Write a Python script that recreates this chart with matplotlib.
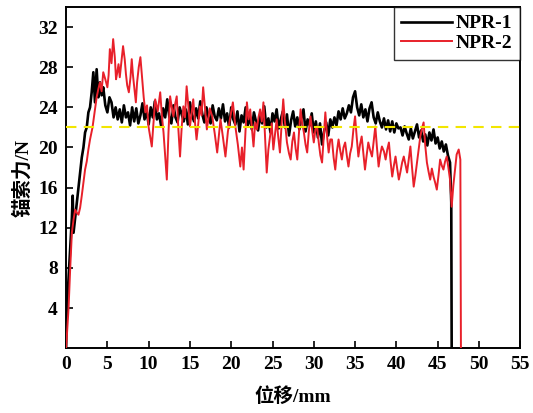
import matplotlib.pyplot as plt
import numpy as np

# NPR-1 (black)
x1 = [0.0, 0.1, 0.3, 0.5, 0.7, 0.8, 0.9, 1.1, 1.3, 1.5, 1.7, 1.9, 2.1, 2.3, 2.5, 2.7, 2.9,
      3.1, 3.3, 3.5, 3.7, 3.9, 4.1, 4.3]
y1 = [0.0, 4.0, 7.0, 10.0, 13.0, 15.2, 11.5, 13.0, 14.5, 16.0, 17.5, 19.0, 20.0, 21.5, 22.0, 23.5, 24.0,
      25.5, 27.5, 24.5, 27.8, 25.0, 26.5, 25.2]
x1_mid = list(np.arange(4.5, 46.5, 0.25))
y1_mid = [26.0, 24.2, 23.5, 25.0,
          24.5, 23.0, 24.0, 22.8,
          23.8, 22.5, 24.2, 23.0,
          23.5, 22.2, 24.0, 22.6,
          23.9, 22.4, 23.2, 24.4,
          22.8, 23.6, 22.3, 24.0,
          23.0, 24.6, 22.8, 23.4,
          22.2, 23.9, 23.0, 24.8,
          23.1, 22.4, 24.2, 23.0,
          22.5, 24.0, 23.3, 22.6,
          23.8, 22.3, 24.5, 23.2,
          22.6, 23.9, 22.9, 24.6,
          23.3, 22.5, 24.0, 23.0,
          22.4, 24.2, 23.1, 22.7,
          23.9, 22.9, 24.3, 22.6,
          23.4, 22.0, 24.0, 22.8,
          22.3, 23.6, 21.6, 23.2,
          22.5, 24.0, 22.2, 23.1,
          21.8, 23.5, 22.6, 21.7,
          23.2, 22.4, 24.1, 22.0,
          22.9, 21.5, 23.4, 22.6,
          23.8, 21.9, 22.8, 23.6,
          22.0, 23.3, 21.2, 22.7,
          23.6, 22.1, 23.0, 21.8,
          22.9, 23.8, 21.6, 22.8,
          22.2, 23.4, 21.5, 22.6,
          21.0, 22.4, 20.3, 21.6,
          22.5, 21.2, 22.8, 22.0,
          23.0, 22.2, 23.6, 22.8,
          23.9, 22.9, 23.4, 24.2,
          23.5, 25.0, 25.6, 24.0,
          23.2, 24.3, 23.0, 23.8,
          22.6, 23.9, 24.5, 23.0,
          22.4, 23.5, 22.6, 22.0,
          22.9, 21.8, 22.7, 21.6,
          22.6, 21.5, 22.4, 21.9,
          22.0, 21.2, 22.1, 21.4,
          20.8, 21.9, 20.9, 21.6,
          22.3, 21.0, 21.7, 20.6,
          21.3, 20.2, 21.5, 20.7,
          21.8, 20.4, 21.0, 19.9,
          20.6, 19.6, 20.3, 19.2]
x1_end = [46.5, 46.65, 46.7]
y1_end = [18.5, 14.5, 0.0]

# NPR-2 (red)
x2 = [0.0, 0.3, 0.5, 0.7, 0.9, 1.1, 1.3, 1.5, 1.7, 1.9, 2.1, 2.3, 2.5, 2.7, 2.9, 3.2, 3.45, 3.7, 3.9,
      4.1, 4.3, 4.5, 4.75, 5.0, 5.15, 5.3, 5.5, 5.7, 5.9, 6.05, 6.2, 6.35, 6.5, 6.7, 6.9, 7.1, 7.25,
      7.4, 7.6, 7.8, 7.95, 8.1, 8.3, 8.45, 8.6, 8.8, 9.0, 9.2, 9.4, 9.6, 9.8,
      9.98, 10.2, 10.38, 10.6, 10.79, 11.1, 11.4, 11.6, 11.8, 12.0, 12.2, 12.4, 12.6, 12.8, 13.0, 13.2,
      13.4, 13.6, 13.8, 14.0, 14.2, 14.4, 14.6, 14.8, 15.0, 15.2, 15.4, 15.6, 15.8, 16.0, 16.2, 16.4,
      16.6, 16.8, 17.05, 17.4, 17.7, 18.0, 18.3, 18.5, 18.7, 19.0, 19.3, 19.6, 19.9, 20.2,
      20.5, 20.8, 21.1, 21.3, 21.5, 21.7, 21.9, 22.1, 22.3, 22.5, 22.7, 22.9, 23.1, 23.3, 23.5, 23.7,
      23.9, 24.1, 24.3, 24.5, 24.7, 24.9, 25.1, 25.3, 25.5, 25.7, 25.9, 26.1, 26.3, 26.5, 26.75, 27.0,
      27.2, 27.4, 27.6, 27.8, 28.0, 28.2, 28.4, 28.6, 28.8, 29.0, 29.2, 29.4, 29.6, 29.8, 30.0, 30.2,
      30.4, 30.6, 30.8, 31.0, 31.2, 31.4, 31.6, 31.8, 32.0, 32.2, 32.4, 32.6, 32.8, 33.0, 33.2, 33.4,
      33.6, 33.8, 34.0, 34.2, 34.4, 34.6, 34.8, 35.0, 35.2, 35.4, 35.6, 35.8, 36.0, 36.2, 36.4, 36.6,
      36.8, 37.05, 37.25, 37.45, 37.65, 37.85, 38.05, 38.25, 38.5, 38.7, 38.9, 39.1, 39.3, 39.5, 39.7,
      39.9, 40.1, 40.3, 40.5, 40.7, 40.9, 41.1, 41.3, 41.5, 41.7, 41.9, 42.1, 42.3, 42.5, 42.7, 42.9,
      43.1, 43.3, 43.5, 43.7, 43.9, 44.1, 44.3, 44.5, 44.7, 44.9, 45.1, 45.3, 45.5, 45.7, 45.9, 46.1,
      46.3, 46.5, 46.7, 46.9, 47.1, 47.3, 47.55, 47.75, 47.8, 47.82]
y2 = [0.0, 4.0, 8.0, 11.5, 12.8, 13.8, 13.5, 13.3, 14.0, 15.2, 16.5, 17.8, 18.6, 19.8, 20.8, 22.0, 23.5,
      25.0, 25.8, 26.5, 25.6, 27.5, 26.8, 26.0, 27.2, 29.8, 28.4, 30.8, 29.0, 26.8, 27.5, 28.3, 27.0,
      28.5, 30.1, 28.8, 27.3, 26.2, 25.5, 27.0, 28.8, 27.2, 25.6, 24.5, 26.5, 28.0, 29.0, 27.0, 25.0,
      23.5, 24.2,
      22.1, 21.0, 20.1, 22.6, 24.8, 23.6, 25.5, 23.2, 21.5, 19.2, 16.8, 21.5, 25.1, 24.0, 23.1, 24.3,
      25.1, 21.8, 19.1, 22.0, 24.1, 23.0, 26.1, 24.2, 22.1, 23.4, 24.8, 22.6, 20.8, 22.3, 24.1, 23.2,
      26.0, 24.1, 21.8, 23.9, 23.1, 21.4, 19.5, 21.2, 22.8, 21.0, 19.1, 21.6, 23.1, 24.5,
      22.1, 20.3, 18.1, 20.0, 17.8, 21.2, 24.5, 22.8, 23.8, 21.9, 20.1, 22.5, 21.8, 23.0, 23.8, 22.6,
      24.5, 21.0, 17.5, 19.8, 21.1, 22.4, 19.8, 21.3, 22.8, 21.0, 19.5, 22.3, 24.8, 22.6, 20.5, 19.4,
      18.8, 20.6, 21.5, 19.9, 18.8, 21.4, 23.8, 22.4, 21.5, 20.3, 19.5, 21.6, 23.1, 21.7, 20.5, 21.8,
      22.1, 20.5, 19.2, 18.5, 21.0, 23.5, 21.2, 19.5, 20.8, 20.8, 19.0, 17.8, 19.6, 20.8, 19.7, 18.8,
      20.0, 20.5, 19.2, 18.1, 19.4, 20.1, 21.8, 23.1, 21.0, 19.1, 20.3, 21.1, 19.4, 17.8, 19.2, 20.5,
      19.8, 19.1, 20.6, 22.1, 20.0, 18.1, 19.3, 20.1, 19.6, 18.8, 19.8, 20.5, 18.6, 17.1, 18.2,
      19.1, 17.9, 16.8, 17.6, 18.5, 19.1, 18.3, 17.5, 18.8, 20.1, 18.0, 16.1, 17.2, 18.5, 19.8, 21.1,
      21.9, 22.5, 20.2, 18.5, 17.6, 16.8, 17.9, 17.1, 16.5, 15.8, 17.2, 18.8, 18.2, 17.8, 18.6, 19.1,
      18.0, 16.8, 14.1, 16.2, 17.8, 19.3, 19.8, 18.8, 6.0, 0.0]

ref_force = 22.0

x1_all = x1 + x1_mid + x1_end
y1_all = y1 + y1_mid + y1_end

plt.rcParams['font.family'] = ['Liberation Serif', 'Noto Sans CJK SC']
plt.rcParams['font.weight'] = 'bold'
plt.rcParams['font.size'] = 14

fig = plt.figure(figsize=(5.33, 4.13), dpi=100)
ax = fig.add_axes([0.124, 0.157, 0.852, 0.826])

ax.plot(x1_all, y1_all, color='black', lw=1.9, label='NPR-1', zorder=3)
ax.plot(x2, y2, color='#e8202a', lw=1.4, label='NPR-2', zorder=4)
ax.axhline(ref_force, color='#f2e600', lw=1.5, ls=(0, (5, 3.5)), zorder=5)

ax.set_xlim(0, 55)
ax.set_ylim(0, 34)
ax.set_xticks(range(0, 56, 5))
ax.set_yticks(range(4, 33, 4))
ax.tick_params(direction='in', length=5, width=1.2, top=False, right=False, labelsize=14, pad=6)
for s in ax.spines.values():
    s.set_linewidth(1.4)

ax.set_xlabel('位移/mm', fontsize=14, fontweight='bold', labelpad=10)
ax.set_ylabel('锚索力/N', fontsize=14, fontweight='bold', labelpad=4)

leg = ax.legend(loc='upper right', fontsize=14, frameon=True, fancybox=False,
                edgecolor='black', handlelength=2.6, handletextpad=0.2,
                borderaxespad=0.0, labelspacing=0.1, borderpad=0.4)
leg.get_frame().set_linewidth(1.0)

plt.savefig('out.png', dpi=100)
